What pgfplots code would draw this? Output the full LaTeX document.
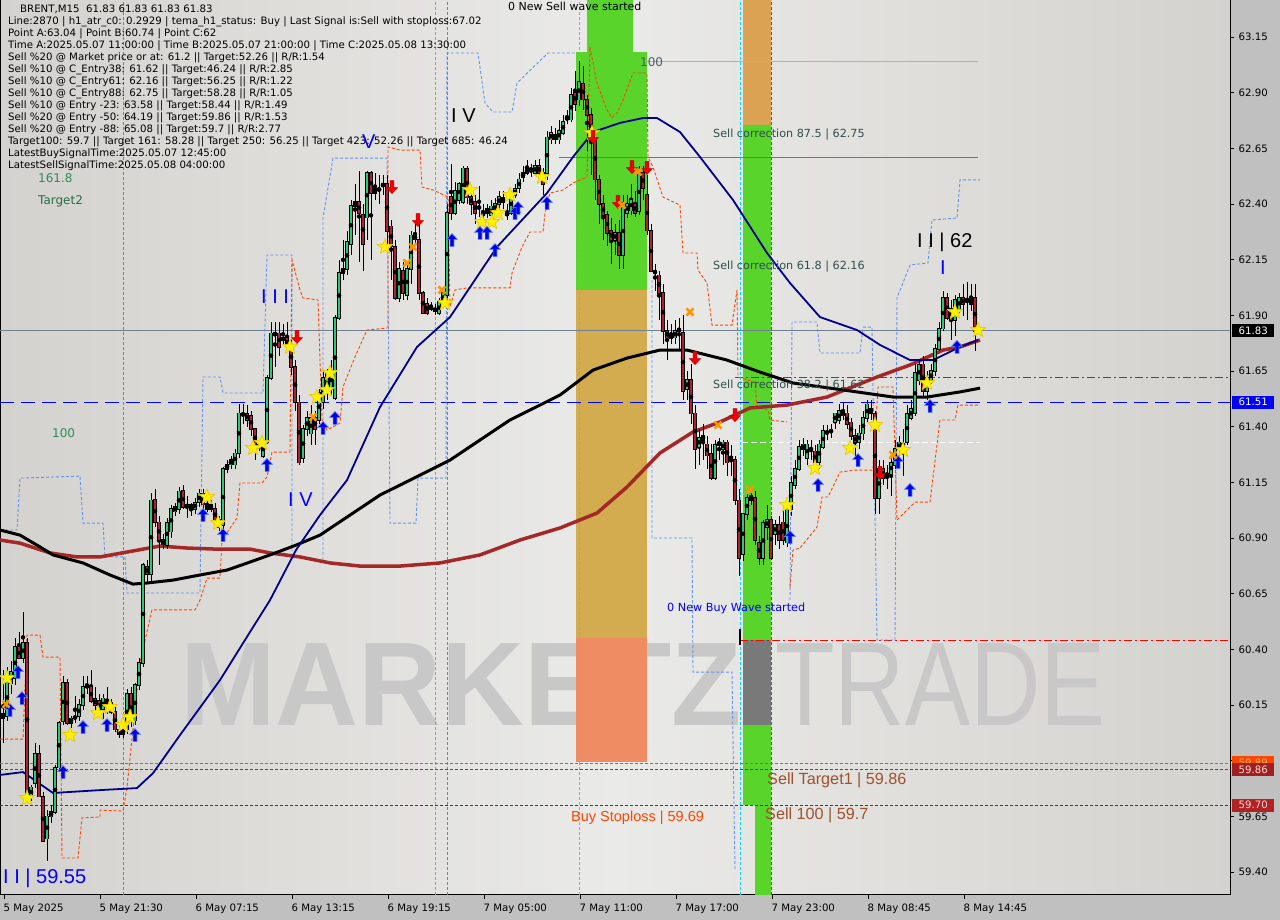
\documentclass[border=0pt]{standalone}
\usepackage{fontspec}
\setmainfont{DejaVu Sans}
\newfontfamily\lib{Liberation Sans}
\usepackage{graphicx}
\usepackage{pgfplots}
\usepackage{pgfplotstable}
\pgfplotsset{compat=1.18}

\definecolor{bgout}{RGB}{192,192,192}
\definecolor{bgL}{RGB}{212,210,206}
\definecolor{bgM}{RGB}{234,234,232}
\definecolor{cUp}{RGB}{40,200,120}
\definecolor{cDn}{RGB}{178,30,50}
\definecolor{bandG}{RGB}{88,212,42}
\definecolor{bandO}{RGB}{210,172,78}
\definecolor{bandS}{RGB}{240,140,100}
\definecolor{bandO2}{RGB}{218,162,82}
\definecolor{maBlue}{RGB}{0,0,140}
\definecolor{maBrown}{RGB}{165,40,40}
\definecolor{envBlue}{RGB}{100,149,237}
\definecolor{envOr}{RGB}{255,69,0}
\definecolor{khaki}{RGB}{189,183,107}
\definecolor{slate}{RGB}{112,128,144}
\definecolor{dslate}{RGB}{47,79,79}
\definecolor{fibgreen}{RGB}{46,139,87}
\definecolor{sienna}{RGB}{160,82,45}
\definecolor{brickred}{RGB}{178,34,34}
\definecolor{wm}{RGB}{200,200,200}
\definecolor{starY}{RGB}{255,240,0}
\definecolor{starE}{RGB}{225,200,0}
\definecolor{arB}{RGB}{0,0,230}
\definecolor{arBE}{RGB}{90,130,255}
\definecolor{arR}{RGB}{240,0,0}
\definecolor{xOr}{RGB}{255,150,0}
\definecolor{pinkv}{RGB}{240,120,170}
\definecolor{cyanv}{RGB}{0,220,230}

\pgfdeclareplotmark{mstar}{%
  \pgfpathmoveto{\pgfpointpolar{90}{\pgfplotmarksize}}%
  \pgfpathlineto{\pgfpointpolar{126}{0.42\pgfplotmarksize}}%
  \pgfpathlineto{\pgfpointpolar{162}{\pgfplotmarksize}}%
  \pgfpathlineto{\pgfpointpolar{198}{0.42\pgfplotmarksize}}%
  \pgfpathlineto{\pgfpointpolar{234}{\pgfplotmarksize}}%
  \pgfpathlineto{\pgfpointpolar{270}{0.42\pgfplotmarksize}}%
  \pgfpathlineto{\pgfpointpolar{306}{\pgfplotmarksize}}%
  \pgfpathlineto{\pgfpointpolar{342}{0.42\pgfplotmarksize}}%
  \pgfpathlineto{\pgfpointpolar{18}{\pgfplotmarksize}}%
  \pgfpathlineto{\pgfpointpolar{54}{0.42\pgfplotmarksize}}%
  \pgfpathclose\pgfusepathqfillstroke}
\pgfdeclareplotmark{uparr}{%
  \pgfpathmoveto{\pgfpoint{-0.3\pgfplotmarksize}{-\pgfplotmarksize}}%
  \pgfpathlineto{\pgfpoint{0.3\pgfplotmarksize}{-\pgfplotmarksize}}%
  \pgfpathlineto{\pgfpoint{0.3\pgfplotmarksize}{0.1\pgfplotmarksize}}%
  \pgfpathlineto{\pgfpoint{0.85\pgfplotmarksize}{0.1\pgfplotmarksize}}%
  \pgfpathlineto{\pgfpoint{0pt}{\pgfplotmarksize}}%
  \pgfpathlineto{\pgfpoint{-0.85\pgfplotmarksize}{0.1\pgfplotmarksize}}%
  \pgfpathlineto{\pgfpoint{-0.3\pgfplotmarksize}{0.1\pgfplotmarksize}}%
  \pgfpathclose\pgfusepathqfillstroke}
\pgfdeclareplotmark{dnarr}{%
  \pgfpathmoveto{\pgfpoint{-0.3\pgfplotmarksize}{\pgfplotmarksize}}%
  \pgfpathlineto{\pgfpoint{0.3\pgfplotmarksize}{\pgfplotmarksize}}%
  \pgfpathlineto{\pgfpoint{0.3\pgfplotmarksize}{-0.1\pgfplotmarksize}}%
  \pgfpathlineto{\pgfpoint{0.85\pgfplotmarksize}{-0.1\pgfplotmarksize}}%
  \pgfpathlineto{\pgfpoint{0pt}{-\pgfplotmarksize}}%
  \pgfpathlineto{\pgfpoint{-0.85\pgfplotmarksize}{-0.1\pgfplotmarksize}}%
  \pgfpathlineto{\pgfpoint{-0.3\pgfplotmarksize}{-0.1\pgfplotmarksize}}%
  \pgfpathclose\pgfusepathqfillstroke}

\newcommand\fs[1]{\fontsize{#1}{#1}\selectfont}

% candles: x o h l c
\pgfplotstableread{
x o h l c
3 60.09 60.31 59.98 60.11
7 60.10 60.32 60.08 60.27
11 60.25 60.35 60.20 60.30
15 60.27 60.45 60.24 60.41
23 60.36 60.57 60.34 60.43
31 59.74 59.79 59.72 59.78
35 59.80 59.98 59.78 59.93
47 59.55 59.68 59.45 59.65
51 59.65 59.70 59.62 59.67
55 59.67 59.88 59.66 59.87
59 59.87 60.08 59.85 60.07
63 60.08 60.28 60.06 60.25
71 60.07 60.10 60.05 60.09
75 60.09 60.19 60.07 60.10
79 60.10 60.18 60.08 60.15
83 60.15 60.28 60.13 60.23
103 60.13 60.20 60.09 60.18
107 60.15 60.23 60.11 60.16
123 60.02 60.06 60.00 60.04
127 60.04 60.22 60.02 60.20
135 60.08 60.25 60.06 60.24
139 60.24 60.36 60.22 60.34
143 60.34 60.79 60.32 60.78
151 60.74 61.10 60.70 61.07
167 60.87 60.99 60.85 60.97
171 60.93 61.05 60.90 61.03
175 61.02 61.06 61.00 61.04
179 61.03 61.13 61.01 61.11
187 61.04 61.09 60.99 61.05
191 61.03 61.06 61.00 61.05
195 61.03 61.08 61.01 61.06
199 61.06 61.12 61.04 61.10
223 60.96 61.22 60.94 61.21
227 61.21 61.25 61.19 61.23
231 61.23 61.27 61.21 61.25
235 61.23 61.30 61.21 61.28
239 61.28 61.50 61.26 61.46
259 61.31 61.34 61.29 61.31
263 61.27 61.34 61.26 61.33
267 61.33 61.63 61.32 61.62
271 61.62 61.87 61.61 61.82
275 61.81 61.87 61.67 61.82
303 61.26 61.41 61.24 61.39
307 61.39 61.47 61.36 61.44
311 61.37 61.50 61.32 61.44
319 61.43 61.57 61.41 61.55
323 61.51 61.65 61.48 61.62
327 61.55 61.66 61.52 61.64
331 61.57 61.70 61.54 61.65
335 61.53 61.90 61.52 61.89
339 61.89 62.15 61.88 62.09
343 62.09 62.24 62.06 62.11
347 62.11 62.28 62.08 62.23
351 62.22 62.42 62.17 62.39
355 62.39 62.49 62.26 62.41
367 62.34 62.55 62.24 62.54
379 62.46 62.53 62.40 62.47
383 62.48 62.53 62.44 62.49
399 61.98 62.14 61.96 62.11
407 61.99 62.13 61.97 62.11
411 62.11 62.28 62.04 62.26
435 61.92 61.95 61.90 61.93
439 61.91 61.98 61.90 61.96
443 61.96 62.02 61.94 62.00
447 61.99 62.40 61.98 62.36
455 62.36 62.50 62.35 62.46
459 62.42 62.50 62.40 62.49
463 62.41 62.57 62.40 62.56
479 62.38 62.48 62.34 62.39
483 62.35 62.40 62.33 62.36
491 62.35 62.42 62.33 62.39
495 62.37 62.43 62.35 62.40
499 62.40 62.46 62.37 62.43
503 62.41 62.46 62.38 62.43
511 62.36 62.46 62.35 62.44
515 62.44 62.49 62.43 62.47
519 62.47 62.54 62.45 62.51
523 62.52 62.57 62.50 62.54
527 62.54 62.60 62.53 62.56
531 62.55 62.58 62.52 62.56
535 62.54 62.60 62.53 62.57
547 62.54 62.73 62.51 62.70
551 62.69 62.75 62.67 62.72
559 62.69 62.78 62.67 62.73
563 62.72 62.80 62.71 62.77
567 62.78 62.82 62.76 62.79
571 62.78 62.92 62.77 62.89
579 62.87 63.04 62.84 62.95
615 62.24 62.31 62.17 62.27
623 62.17 62.44 62.11 62.39
627 62.36 62.44 62.34 62.40
631 62.37 62.49 62.35 62.42
639 62.37 62.57 62.35 62.54
675 61.80 61.88 61.77 61.83
679 61.83 61.89 61.74 61.84
687 61.57 61.65 61.52 61.61
699 61.31 61.39 61.23 61.35
703 61.34 61.41 61.25 61.36
715 61.17 61.34 61.16 61.32
719 61.32 61.35 61.25 61.33
723 61.30 61.34 61.23 61.33
731 61.26 61.32 61.18 61.26
743 60.83 61.01 60.80 61.01
747 61.01 61.11 60.98 61.08
751 61.07 61.12 61.05 61.09
763 60.81 60.98 60.78 60.97
767 60.95 61.05 60.89 60.98
775 60.92 60.98 60.87 60.96
787 60.88 61.05 60.86 61.03
791 61.03 61.18 61.00 61.15
795 61.14 61.25 61.12 61.21
799 61.21 61.34 61.20 61.31
803 61.30 61.35 61.27 61.32
807 61.26 61.34 61.23 61.32
811 61.30 61.34 61.25 61.30
819 61.24 61.34 61.21 61.32
823 61.31 61.41 61.30 61.38
827 61.37 61.41 61.34 61.38
831 61.38 61.41 61.35 61.38
835 61.42 61.46 61.39 61.46
839 61.43 61.50 61.41 61.47
859 61.33 61.41 61.30 61.37
863 61.37 61.47 61.34 61.44
867 61.44 61.52 61.42 61.50
879 61.08 61.25 61.01 61.21
887 61.18 61.23 61.12 61.19
891 61.19 61.27 61.09 61.24
895 61.23 61.34 61.21 61.30
899 61.30 61.36 61.27 61.33
903 61.32 61.39 61.18 61.32
907 61.33 61.50 61.32 61.46
911 61.44 61.52 61.43 61.48
915 61.46 61.68 61.45 61.64
919 61.61 61.70 61.59 61.68
927 61.56 61.65 61.52 61.62
931 61.61 61.68 61.59 61.65
935 61.65 61.77 61.63 61.75
939 61.75 61.87 61.74 61.84
943 61.84 62.01 61.83 61.98
955 61.88 61.99 61.81 61.97
959 61.93 62.00 61.91 61.98
967 61.97 62.05 61.88 61.97
971 61.95 62.04 61.92 61.97
}\upT

\pgfplotstableread{
x o h l c
19 60.41 60.48 60.36 60.36
27 60.43 60.45 59.72 59.74
39 59.93 59.97 59.74 59.74
43 59.74 59.76 59.54 59.54
67 60.25 60.27 60.06 60.07
87 60.24 60.28 60.20 60.23
91 60.23 60.31 60.16 60.17
95 60.18 60.23 60.11 60.15
99 60.17 60.20 60.10 60.13
111 60.16 60.18 60.11 60.12
115 60.12 60.14 60.03 60.04
119 60.04 60.06 60.00 60.02
131 60.20 60.23 60.05 60.08
147 60.77 60.80 60.70 60.74
155 61.07 61.12 60.95 60.97
159 60.97 61.00 60.78 60.89
163 60.89 60.92 60.85 60.87
183 61.11 61.14 61.03 61.04
203 61.10 61.12 61.03 61.05
207 61.05 61.08 61.02 61.03
211 61.05 61.07 61.02 61.03
215 61.03 61.06 60.96 60.98
219 60.98 61.00 60.93 60.95
243 61.46 61.50 61.41 61.45
247 61.46 61.50 61.40 61.43
251 61.45 61.47 61.36 61.39
255 61.39 61.39 61.25 61.31
279 61.82 61.87 61.72 61.76
283 61.80 61.86 61.77 61.79
287 61.80 61.87 61.74 61.76
291 61.76 61.79 61.63 61.67
295 61.67 61.70 61.47 61.51
299 61.51 61.54 61.23 61.24
315 61.44 61.47 61.32 61.39
359 62.41 62.55 62.14 62.36
363 62.35 62.40 62.10 62.22
371 62.54 62.55 62.15 62.45
375 62.47 62.54 62.42 62.45
387 62.49 62.53 62.19 62.28
391 62.30 62.33 62.06 62.21
395 62.21 62.24 61.97 61.98
403 62.10 62.14 61.97 62.00
415 62.26 62.31 62.22 62.24
419 62.24 62.33 61.97 62.00
423 62.00 62.01 61.91 61.91
427 61.95 61.98 61.90 61.91
431 61.94 61.96 61.92 61.93
451 62.43 62.58 62.33 62.36
467 62.56 62.57 62.40 62.43
471 62.43 62.46 62.35 62.40
475 62.41 62.44 62.31 62.36
487 62.38 62.40 62.34 62.36
507 62.36 62.40 62.33 62.35
539 62.57 62.60 62.52 62.54
543 62.54 62.56 62.44 62.49
555 62.71 62.74 62.67 62.69
575 62.90 63.00 62.82 62.85
583 62.94 63.02 62.82 62.87
587 62.87 62.89 62.64 62.80
591 62.80 62.83 62.53 62.70
595 62.70 62.73 62.42 62.51
599 62.51 62.53 62.31 62.40
603 62.40 62.44 62.24 62.35
607 62.35 62.37 62.21 62.27
611 62.28 62.34 62.13 62.24
619 62.27 62.33 62.11 62.17
635 62.40 62.46 62.34 62.36
643 62.54 62.57 62.42 62.47
647 62.44 62.53 62.26 62.28
651 62.28 62.31 62.10 62.10
655 62.10 62.13 62.01 62.09
659 62.08 62.10 61.88 62.00
663 62.00 62.04 61.77 61.83
667 61.83 61.88 61.70 61.80
671 61.81 61.86 61.77 61.80
683 61.82 61.90 61.52 61.56
691 61.61 61.68 61.41 61.46
695 61.46 61.50 61.21 61.30
707 61.32 61.36 61.21 61.27
711 61.28 61.32 61.16 61.17
727 61.33 61.34 61.18 61.24
735 61.25 61.27 61.05 61.07
739 61.07 61.12 60.73 60.81
755 61.08 61.11 60.87 60.89
759 60.88 60.91 60.78 60.81
771 60.98 61.00 60.80 60.81
779 60.96 61.00 60.85 60.89
783 60.97 61.03 60.87 60.89
815 61.29 61.32 61.21 61.24
843 61.47 61.51 61.43 61.45
847 61.46 61.50 61.39 61.41
851 61.42 61.44 61.34 61.36
855 61.36 61.39 61.27 61.33
871 61.48 61.52 61.43 61.46
875 61.46 61.47 61.01 61.08
883 61.21 61.25 61.14 61.17
923 61.68 61.72 61.54 61.56
947 61.98 62.00 61.88 61.89
951 61.93 61.97 61.79 61.88
963 61.98 62.04 61.90 61.95
975 61.98 62.04 61.74 61.83
}\dnT

\pgfplotsset{
  wick/.style={only marks, mark=none, forget plot,
    error bars/.cd, y dir=both, y explicit, error mark=none,
    error bar style={line width=1pt, black, solid}},
  body/.style 2 args={only marks, mark=none, forget plot,
    error bars/.cd, y dir=both, y explicit, error mark=none,
    error bar style={line width=#1, #2, solid}},
}

\begin{document}
\begin{tikzpicture}[x=1pt,y=1pt]
\useasboundingbox (0,0) rectangle (1280,920);
\fill[bgout] (0,0) rectangle (1280,920);
\begin{axis}[
  at={(0pt,25pt)}, anchor=south west, scale only axis,
  width=1230pt, height=895pt,
  xmin=0, xmax=1230, ymin=59.297, ymax=63.316,
  clip mode=individual,
  axis background/.style={left color=bgL, right color=bgL, middle color=bgM},
  axis line style={black, line width=1pt},
  tick align=outside, major tick length=4pt,
  tick style={black, line width=0.8pt},
  xtick pos=bottom, ytick pos=right,
  ytick={59.40,59.65,59.90,60.15,60.40,60.65,60.90,61.15,61.40,61.65,61.90,62.15,62.40,62.65,62.90,63.15},
  yticklabels={59.40,59.65,59.90,60.15,60.40,60.65,60.90,61.15,61.40,61.65,61.90,62.15,62.40,62.65,62.90,63.15},
  xtick={4,100,196,292,388,484,580,676,772,868,964},
  xticklabels={5 May 2025,5 May 21:30,6 May 07:15,6 May 13:15,6 May 19:15,7 May 05:00,7 May 11:00,7 May 17:00,7 May 23:00,8 May 08:45,8 May 14:45},
  ticklabel style={font=\fontsize{10.2}{12}\selectfont, text=black},
  xticklabel style={anchor=north west, xshift=-4pt, yshift=-1pt},
  yticklabel style={anchor=west, xshift=1pt},
]
% watermark
\node[anchor=base west, inner sep=0pt, text=wm] at (axis cs:180,60.060)
  {\scalebox{0.965}[1]{\lib\fontsize{119}{119}\selectfont\bfseries MARKETZ}};
\node[anchor=base west, inner sep=0pt, text=wm] at (axis cs:775,60.060)
  {\scalebox{0.82}[1]{\lib\fontsize{119}{119}\selectfont TRADE}};

% bands
\addplot[fill=bandG, draw=none, forget plot] coordinates {(587,63.316) (633,63.316) (633,63.082) (647,63.082) (647,62.014) (576,62.014) (576,63.082) (587,63.082)} -- cycle;
\addplot[fill=bandO, draw=none, forget plot] coordinates {(576,62.014) (647,62.014) (647,60.451) (576,60.451)} -- cycle;
\addplot[fill=bandS, draw=none, forget plot] coordinates {(576,60.451) (647,60.451) (647,59.894) (576,59.894)} -- cycle;
\addplot[fill=bandO2, draw=none, forget plot] coordinates {(743,63.316) (771,63.316) (771,62.755) (743,62.755)} -- cycle;
\addplot[fill=bandG, draw=none, forget plot] coordinates {(743,62.755) (771,62.755) (771,59.297) (755,59.297) (755,59.701) (743,59.701)} -- cycle;
\addplot[fill=gray!95!black, draw=none, forget plot] coordinates {(743,60.442) (771,60.442) (771,60.060) (743,60.060)} -- cycle;

% vertical separators
\addplot[gray, dash pattern=on 3pt off 2pt, line width=0.8pt, forget plot] coordinates {(123,59.297) (123,63.316)};
\addplot[cyanv, dash pattern=on 3pt off 2pt, line width=0.8pt, forget plot] coordinates {(435,59.297) (435,63.316)};
\addplot[gray, dash pattern=on 3pt off 2pt, line width=0.8pt, forget plot] coordinates {(447,59.297) (447,63.316)};
\addplot[pinkv, dash pattern=on 3pt off 2pt, line width=0.8pt, forget plot] coordinates {(579,59.297) (579,63.316)};
\addplot[cyanv, dash pattern=on 3pt off 2pt, line width=0.8pt, forget plot] coordinates {(740,59.297) (740,63.316)};
\addplot[gray!70!black, dash pattern=on 3pt off 2pt, line width=0.8pt, forget plot] coordinates {(771,59.297) (771,63.316)};

% horizontal levels
\addplot[khaki, line width=1pt, forget plot] coordinates {(645,63.04) (978,63.04)};
\addplot[envOr, line width=1pt, forget plot] coordinates {(559,62.61) (978,62.61)};
\addplot[slate, line width=1pt, forget plot] coordinates {(0,61.83) (1230,61.83)};
\addplot[blue, line width=1pt, dash pattern=on 14pt off 7pt, forget plot] coordinates {(0,61.51) (1230,61.51)};
\addplot[red, line width=1pt, dash pattern=on 8pt off 3pt on 2pt off 3pt, forget plot] coordinates {(735,61.62) (1230,61.62)};
\addplot[red, line width=1pt, dash pattern=on 8pt off 3pt on 2pt off 3pt, forget plot] coordinates {(740,60.44) (1230,60.44)};
\addplot[white, line width=1pt, dash pattern=on 6pt off 3pt, forget plot] coordinates {(733,61.33) (980,61.33)};
\addplot[envOr, line width=0.8pt, dash pattern=on 3pt off 2pt, forget plot] coordinates {(0,59.89) (1230,59.89)};
\addplot[brickred, line width=0.8pt, dash pattern=on 3pt off 2pt, forget plot] coordinates {(0,59.86) (1230,59.86)};
\addplot[red!80!black, line width=0.8pt, dash pattern=on 3pt off 2pt, forget plot] coordinates {(0,59.70) (1230,59.70)};
\addplot[black, line width=2pt, forget plot] coordinates {(740,60.49) (740,60.42)};

% blue envelope (dashed)
\addplot[envBlue, line width=0.9pt, dash pattern=on 3pt off 2pt, forget plot] coordinates {
(0,60.936) (17,60.936) (20,61.169) (80,61.178) (83,60.967) (103,60.967) (105,60.815) (125,60.815) (127,60.653) (200,60.653) (203,61.623) (220,61.623) (223,61.551) (263,61.551) (267,62.171) (292,62.171) (292,60.801)};
\addplot[envBlue, line width=0.9pt, dash pattern=on 3pt off 2pt, forget plot] coordinates {
(323,60.801) (323,62.337) (333,62.606) (387,62.606) (390,60.967) (416,60.967) (418,61.169) (446,61.169) (447,63.078) (478,63.078) (485,62.853) (493,62.813) (512,62.813) (517,62.943) (548,63.078) (578,63.078)};
\addplot[envBlue, line width=0.9pt, dash pattern=on 3pt off 2pt, forget plot] coordinates {
(652,62.058) (652,60.900) (692,60.900) (693,60.298) (732,60.298) (735,59.409)};
\addplot[envBlue, line width=0.9pt, dash pattern=on 3pt off 2pt, forget plot] coordinates {
(790,60.621) (792,61.870) (817,61.870) (820,61.731) (860,61.731) (863,61.847) (872,61.847) (877,60.442) (895,60.442) (897,61.978) (910,62.126) (928,62.135) (932,62.328) (957,62.337) (960,62.508) (980,62.508)};

% orange trailing lines (dashed)
\addplot[envOr, line width=0.9pt, dash pattern=on 3pt off 2pt, forget plot] coordinates {
(0,59.997) (23,59.997) (27,60.464) (40,60.464) (43,60.365) (60,60.365) (62,59.463) (78,59.463) (82,59.643) (100,59.647) (100,59.678) (123,59.674) (127,59.782) (140,60.343) (152,60.577) (195,60.577) (200,60.621) (207,60.720) (220,60.720) (222,60.891) (237,60.990) (240,61.147) (262,61.147) (267,61.174) (272,61.286) (290,61.286)};
\addplot[envOr, line width=0.9pt, dash pattern=on 3pt off 2pt, forget plot] coordinates {
(290,61.286) (292,62.148) (300,62.014) (303,61.978) (318,61.969) (322,61.430) (327,61.385) (340,61.416) (343,61.578) (355,61.713) (367,61.834) (387,61.843)};
\addplot[envOr, line width=0.9pt, dash pattern=on 3pt off 2pt, forget plot] coordinates {
(388,61.843) (388,62.656) (400,62.642) (420,62.642) (422,62.476) (433,62.463) (448,62.431) (450,61.937) (455,62.014) (467,62.023) (510,62.023) (512,62.090) (522,62.207) (530,62.274) (543,62.274) (545,62.359) (550,62.449) (563,62.463) (573,62.494) (587,62.521) (590,63.105) (597,62.943) (607,62.822) (612,62.786) (617,62.809) (623,62.867) (633,62.988) (647,62.988) (648,62.611) (653,62.566) (663,62.431) (680,62.395) (683,62.180) (697,62.180) (698,62.103) (707,62.045) (712,61.856) (732,61.856) (737,62.014) (738,61.623) (755,61.600) (757,61.488) (768,61.475) (770,61.430) (787,61.421)};
\addplot[envOr, line width=0.9pt, dash pattern=on 3pt off 2pt, forget plot] coordinates {
(790,60.680) (793,60.846) (800,60.855) (817,60.949) (822,61.084) (828,61.084) (840,61.196) (855,61.205) (873,61.205) (878,61.578) (893,61.578) (897,60.981) (915,61.061) (930,61.061) (940,61.430) (955,61.430) (958,61.497) (980,61.497)};

% moving averages
\addplot[maBrown, line width=3.5pt, forget plot] coordinates {
(0,60.891) (20,60.877) (50,60.833) (77,60.815) (100,60.815) (127,60.837) (160,60.864) (187,60.855) (217,60.850) (250,60.850) (270,60.833) (300,60.815) (330,60.788) (360,60.774) (400,60.774) (440,60.788) (480,60.824) (520,60.891) (560,60.945) (597,61.012) (627,61.129) (660,61.282) (693,61.376) (720,61.421) (750,61.484) (787,61.497) (827,61.533) (877,61.623) (910,61.677) (943,61.744) (960,61.758) (980,61.789)};
\addplot[black, line width=3pt, forget plot] coordinates {
(0,60.936) (20,60.913) (40,60.860) (53,60.824) (83,60.788) (110,60.734) (133,60.693) (147,60.698) (173,60.711) (200,60.734) (227,60.756) (250,60.792) (270,60.824) (296,60.868) (320,60.913) (350,61.003) (380,61.093) (410,61.160) (450,61.250) (480,61.340) (510,61.430) (540,61.497) (560,61.542) (593,61.654) (627,61.708) (660,61.744) (687,61.744) (727,61.699) (760,61.645) (793,61.596) (843,61.565) (893,61.533) (927,61.533) (960,61.556) (980,61.573)};
\addplot[maBlue, line width=1.8pt, forget plot] coordinates {
(0,59.836) (23,59.849) (53,59.755) (100,59.768) (137,59.777) (153,59.844) (180,60.015) (220,60.262) (250,60.478) (270,60.621) (296,60.846) (320,61.003) (347,61.160) (380,61.488) (417,61.758) (450,61.892) (497,62.207) (547,62.449) (573,62.611) (593,62.723) (620,62.764) (643,62.786) (657,62.786) (680,62.723) (700,62.611) (733,62.418) (767,62.180) (790,62.045) (820,61.892) (857,61.834) (880,61.767) (910,61.699) (933,61.699) (960,61.758) (978,61.789)};

% candles
\addplot[wick] table[x=x, y expr={(\thisrow{h}+\thisrow{l})/2}, y error expr={(\thisrow{h}-\thisrow{l})/2}] {\upT};
\addplot[wick] table[x=x, y expr={(\thisrow{h}+\thisrow{l})/2}, y error expr={(\thisrow{h}-\thisrow{l})/2}] {\dnT};
\addplot[body={3.4pt}{black}] table[x=x, y expr={(\thisrow{o}+\thisrow{c})/2}, y error expr={abs(\thisrow{o}-\thisrow{c})/2+0.0036}] {\upT};
\addplot[body={3.4pt}{black}] table[x=x, y expr={(\thisrow{o}+\thisrow{c})/2}, y error expr={abs(\thisrow{o}-\thisrow{c})/2+0.0036}] {\dnT};
\addplot[body={1.6pt}{cUp}] table[x=x, y expr={(\thisrow{o}+\thisrow{c})/2}, y error expr={abs(\thisrow{o}-\thisrow{c})/2}] {\upT};
\addplot[body={1.6pt}{cDn}] table[x=x, y expr={(\thisrow{o}+\thisrow{c})/2}, y error expr={abs(\thisrow{o}-\thisrow{c})/2}] {\dnT};

% signal markers
\addplot[only marks, mark=mstar, mark size=8pt, mark options={fill=starY, draw=starE, line width=0.6pt}, forget plot] coordinates {
(7,60.271) (27,59.732) (70,60.015) (98,60.114) (110,60.141) (123,60.060) (130,60.096) (207,61.084) (218,60.967) (253,61.304) (262,61.327) (290,61.758) (317,61.533) (327,61.565) (330,61.641) (385,62.207) (445,61.955) (470,62.463) (482,62.319) (492,62.319) (498,62.359) (510,62.440) (542,62.521) (592,62.719) (787,61.048) (815,61.214) (850,61.304) (875,61.407) (903,61.295) (927,61.596) (955,61.915) (978,61.834)};
\addplot[only marks, mark=uparr, mark size=6.5pt, mark options={fill=arB, draw=arBE, line width=0.6pt}, forget plot] coordinates {
(10,60.127) (18,60.298) (22,60.181) (63,59.849) (83,60.051) (107,60.060) (135,60.015) (203,61.003) (223,60.913) (267,61.228) (323,61.394) (335,61.439) (452,62.238) (480,62.270) (487,62.270) (495,62.193) (515,62.359) (518,62.382) (547,62.404) (790,60.904) (818,61.138) (858,61.250) (898,61.241) (910,61.116) (930,61.493) (957,61.758)};
\addplot[only marks, mark=dnarr, mark size=6.5pt, mark options={fill=arR, draw=arR!80!black, line width=0.5pt}, forget plot] coordinates {
(297,61.803) (392,62.476) (418,62.328) (632,62.566) (647,62.562) (618,62.409) (593,62.701) (695,61.708) (735,61.452) (880,61.192)};
\addplot[only marks, mark=x, mark size=5pt, mark options={draw=xOr, line width=2.6pt}, forget plot] coordinates {
(6,60.154) (313,61.443) (407,62.135) (413,62.207) (442,62.014) (622,62.395) (638,62.544) (690,61.915) (718,61.407) (750,61.116) (893,61.273)};

% text annotations
\node[anchor=north west, inner sep=0pt, align=left, font=\fontsize{10.2}{12}\selectfont] at (axis cs:8,63.294) {%
\hspace*{12pt}BRENT,M15\ \ 61.83 61.83 61.83 61.83\\
Line:2870 | h1\_atr\_c0: 0.2929 | tema\_h1\_status: Buy | Last Signal is:Sell with stoploss:67.02\\
Point A:63.04 | Point B:60.74 | Point C:62\\
Time A:2025.05.07 11:00:00 | Time B:2025.05.07 21:00:00 | Time C:2025.05.08 13:30:00\\
Sell \%20 @ Market price or at: 61.2 || Target:52.26 || R/R:1.54\\
Sell \%10 @ C\_Entry38: 61.62 || Target:46.24 || R/R:2.85\\
Sell \%10 @ C\_Entry61: 62.16 || Target:56.25 || R/R:1.22\\
Sell \%10 @ C\_Entry88: 62.75 || Target:58.28 || R/R:1.05\\
Sell \%10 @ Entry -23: 63.58 || Target:58.44 || R/R:1.49\\
Sell \%20 @ Entry -50: 64.19 || Target:59.86 || R/R:1.53\\
Sell \%20 @ Entry -88: 65.08 || Target:59.7 || R/R:2.77\\
Target100: 59.7 || Target 161: 58.28 || Target 250: 56.25 || Target 423: 52.26 || Target 685: 46.24\\
LatestBuySignalTime:2025.05.07 12:45:00\\
LatestSellSignalTime:2025.05.08 04:00:00};
\node[anchor=west, inner sep=0pt, font=\fs{11}] at (axis cs:508,63.289) {0 New Sell wave started};
\node[anchor=west, inner sep=0pt, font=\fs{12}, text=slate!70!black] at (axis cs:640,63.038) {100};
\node[anchor=west, inner sep=0pt, font=\fs{12}, text=fibgreen] at (axis cs:38,62.517) {161.8};
\node[anchor=west, inner sep=0pt, font=\fs{12}, text=fibgreen!80!black] at (axis cs:38,62.413) {Target2};
\node[anchor=west, inner sep=0pt, font=\fs{12}, text=fibgreen] at (axis cs:52,61.371) {100};
\node[anchor=west, inner sep=0pt, font=\fs{11.2}, text=dslate] at (axis cs:713,62.714) {Sell correction 87.5 | 62.75};
\node[anchor=west, inner sep=0pt, font=\fs{11.2}, text=dslate] at (axis cs:713,62.121) {Sell correction 61.8 | 62.16};
\node[anchor=west, inner sep=0pt, font=\fs{11.2}, text=dslate] at (axis cs:713,61.583) {Sell correction 38.2 | 61.62};
\node[anchor=west, inner sep=0pt, font=\fs{11.2}, text=blue] at (axis cs:667,60.585) {0 New Buy Wave started};
\node[anchor=west, inner sep=0pt, font=\lib\fs{20}] at (axis cs:917,62.229) {I I | 62};
\node[anchor=west, inner sep=0pt, font=\lib\fs{20}, text=blue] at (axis cs:940,62.112) {I};
\node[anchor=west, inner sep=0pt, font=\lib\fs{20}, text=blue] at (axis cs:3,59.373) {I I | 59.55};
\node[anchor=west, inner sep=0pt, font=\lib\fs{20}, text=blue] at (axis cs:261,61.982) {I I I};
\node[anchor=west, inner sep=0pt, font=\lib\fs{20}] at (axis cs:451,62.795) {I V};
\node[anchor=west, inner sep=0pt, font=\lib\fs{20}, text=blue] at (axis cs:362,62.678) {V};
\node[anchor=west, inner sep=0pt, font=\lib\fs{20}, text=blue] at (axis cs:288,61.071) {I V};
\node[anchor=west, inner sep=0pt, font=\lib\fs{16.2}, text=sienna] at (axis cs:767,59.813) {Sell Target1 | 59.86};
\node[anchor=west, inner sep=0pt, font=\lib\fs{16.2}, text=sienna] at (axis cs:765,59.656) {Sell 100 | 59.7};
\node[anchor=west, inner sep=0pt, font=\lib\fs{14.5}, text=envOr] at (axis cs:571,59.643) {Buy Stoploss | 59.69};

\coordinate (q1) at (axis cs:1230,61.83);
\coordinate (q2) at (axis cs:1230,61.51);
\coordinate (q3) at (axis cs:1230,59.89);
\coordinate (q4) at (axis cs:1230,59.86);
\coordinate (q5) at (axis cs:1230,59.70);
\end{axis}
\tikzset{pbox/.style={anchor=west, inner sep=0pt, minimum width=42pt, minimum height=13pt, font=\fontsize{10.2}{12}\selectfont}}
\node[pbox, fill=black, text=white] at ([xshift=2pt]q1) {61.83};
\node[pbox, fill=blue, text=white] at ([xshift=2pt]q2) {61.51};
\node[pbox, fill=envOr, text=orange!60!white] at ([xshift=2pt]q3) {59.89};
\node[pbox, fill=brickred!90!black, text=white!85!red] at ([xshift=2pt]q4) {59.86};
\node[pbox, fill=brickred, text=white!85!red] at ([xshift=2pt]q5) {59.70};
\end{tikzpicture}
\end{document}
